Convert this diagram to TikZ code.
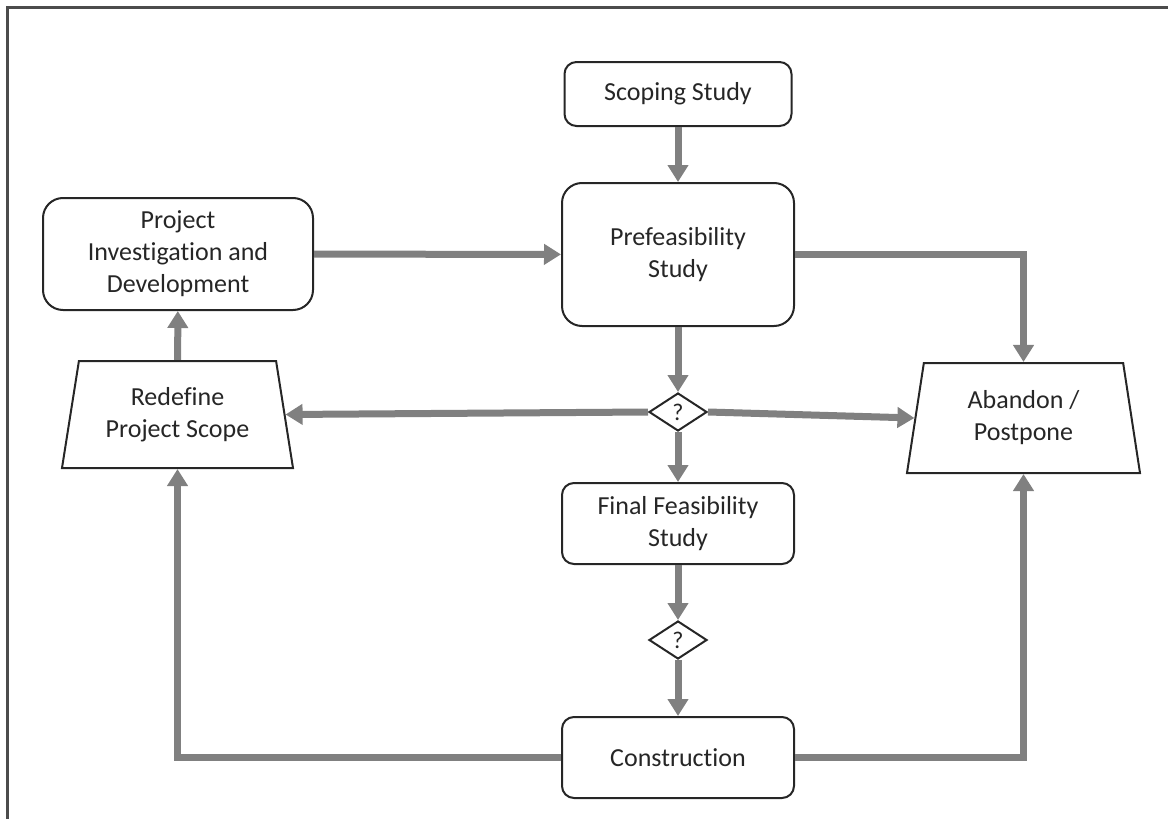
\documentclass[tikz,border=0pt]{standalone}
\usepackage{fontspec}
\setmainfont{Carlito}[Ligatures={NoCommon,NoContextual}]
\usetikzlibrary{arrows.meta,positioning,shapes.geometric}

\tikzset{
  stage/.style={draw=black!85, line width=1pt, rounded corners=6pt, align=center,
    text=black!85, font=\fontsize{13}{16}\selectfont, minimum width=116pt, minimum height=40.5pt},
  bigstage/.style={stage, rounded corners=10pt},
  decision/.style={diamond, draw=black!85, line width=1pt, inner sep=0pt, aspect=1.5,
    minimum width=29pt, minimum height=19pt, text=black!85, font=\fontsize{12}{14}\selectfont},
  outcome/.style={trapezium, trapezium stretches body, draw=black!85, line width=1pt,
    trapezium left angle=76, trapezium right angle=76, align=center, text=black!85,
    font=\fontsize{13}{16}\selectfont},
  flow/.style={draw=black!50, line width=3.5pt, -{Triangle[width=10pt,length=8.5pt]}},
}

\begin{document}
\begin{tikzpicture}[x=0.5pt, y=-0.5pt, on grid]
        \useasboundingbox (0,0) rectangle (1168,819);
        \draw[line width=1.5pt, black!70] (7,819) -- (7,7) -- (1168,7);

        % middle column
        \node[stage, minimum width=113.5pt, minimum height=32pt] (scope) at (678,94) {Scoping Study};
        \node[bigstage, minimum height=71.5pt] (pre) [below=80.25pt of scope] {Prefeasibility\\Study};
        \node[decision] (q1) [below=78.75pt of pre] {?};
        \node[stage] (final) [below=55.75pt of q1] {Final Feasibility\\Study};
        \node[decision] (q2) [below=58.25pt of final] {?};
        \node[stage] (cons) [below=58.75pt of q2] {Construction};

        % side nodes
        \node[bigstage, minimum width=135pt, minimum height=56pt] (pid) at (178,254) {Project\\Investigation and\\Development};
        \node[outcome, minimum width=115.5pt, minimum height=53.5pt] (redef) at (177.5,414.5) {Redefine\\Project Scope};
        \node[outcome, minimum width=116.5pt, minimum height=55pt] (stop) at (1023.5,418) {Abandon /\\Postpone};

        \path
        (scope) edge[flow] (pre)
        (pid) edge[flow] (pre)
        (pre) edge[flow] (q1)
        (q1) edge[flow] (final)
        (q1.west) edge[flow] (redef.east)
        (q1.east) edge[flow] (stop.west)
        (final) edge[flow] (q2)
        (q2) edge[flow] (cons)
        (redef) edge[flow] (pid);
        \draw[flow] (pre.east) -| (stop.north);
        \draw[flow] (cons.west) -| (redef.south);
        \draw[flow] (cons.east) -| (stop.south);
\end{tikzpicture}
\end{document}
